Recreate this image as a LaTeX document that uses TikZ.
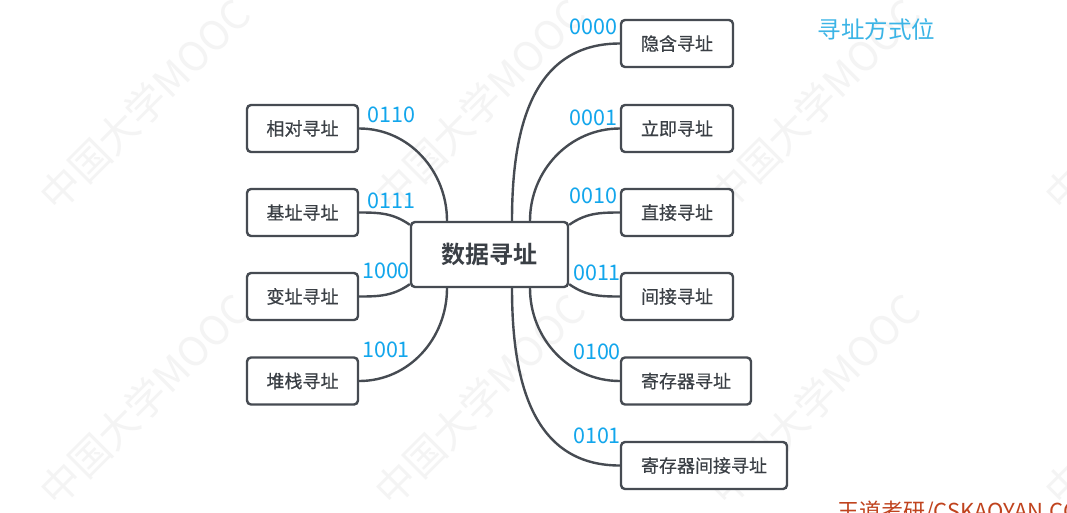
\documentclass[tikz,border=0pt]{standalone}
\usepackage{fontspec}
\setmainfont{Noto Sans CJK SC}[BoldFont={Noto Sans CJK SC Bold}]
\newfontfamily\leaffont{Noto Sans CJK SC}[FakeBold=0.6]
\usetikzlibrary{calc}
\definecolor{edgecol}{HTML}{464B52}
\definecolor{txtcol}{HTML}{3A3F45}
\definecolor{codecol}{HTML}{12A6EC}
\definecolor{notecol}{HTML}{3BB4E6}
\definecolor{brandcol}{HTML}{C0431E}
\definecolor{wmcol}{HTML}{F4F4F4}
\begin{document}
\begin{tikzpicture}[x=1pt,y=-1pt,
  leaf/.style={draw=edgecol, line width=2.4pt, rounded corners=4pt, fill=white,
    text=txtcol, font=\leaffont\fontsize{18}{20}\selectfont, inner sep=0pt, minimum height=47pt},
  hub/.style={leaf, font=\fontsize{24}{26}\selectfont\bfseries, minimum height=65pt, minimum width=157pt},
  link/.style={draw=edgecol, line width=2.4pt},
  code/.style={text=codecol, font=\fontsize{21.5}{23}\selectfont, inner sep=0pt},
  wmark/.style={text=wmcol, font=\fontsize{40}{42}\selectfont, rotate=45, inner sep=0pt}]
\clip (0,0) rectangle (1067,512);
\fill[white] (0,0) rectangle (1067,512);

% faint background watermark
\foreach \wx in {145,480,815,1150}
  \foreach \wy in {105,400}
    \node[wmark] (wm-\wx-\wy) at (\wx,\wy) {中国大学MOOC};

% central topic
\node[hub] (c) at (489.5,254.5) {数据寻址};

% right branches
\node[leaf, minimum width=112pt] (r0) at (677,43.5) {隐含寻址};
\node[leaf, minimum width=112pt] (r1) at (677,128.5) {立即寻址};
\node[leaf, minimum width=112pt] (r2) at (677,212.5) {直接寻址};
\node[leaf, minimum width=112pt] (r3) at (677,296.5) {间接寻址};
\node[leaf, minimum width=130pt] (r4) at (686,381) {寄存器寻址};
\node[leaf, minimum width=166pt] (r5) at (704,465.5) {寄存器间接寻址};

% left branches
\node[leaf, minimum width=111pt] (l0) at (302.5,128.5) {相对寻址};
\node[leaf, minimum width=111pt] (l1) at (302.5,212.5) {基址寻址};
\node[leaf, minimum width=111pt] (l2) at (302.5,296.5) {变址寻址};
\node[leaf, minimum width=111pt] (l3) at (302.5,381) {堆栈寻址};

% connectors
\draw[link] ([xshift=22.5pt]c.north) to[out=90,in=180,looseness=1.1] (r0.west);
\draw[link] ([xshift=40.5pt]c.north) to[out=90,in=180] (r1.west);
\draw[link] ([yshift=-4pt]c.north east) to[out=35,in=180] (r2.west);
\draw[link] ([yshift=4pt]c.south east) to[out=-35,in=180] (r3.west);
\draw[link] ([xshift=40.5pt]c.south) to[out=-90,in=180] (r4.west);
\draw[link] ([xshift=22.5pt]c.south) to[out=-90,in=180,looseness=1.1] (r5.west);
\draw[link] ([xshift=-42.5pt]c.north) to[out=90,in=0] (l0.east);
\draw[link] ([yshift=-4pt]c.north west) to[out=145,in=0] (l1.east);
\draw[link] ([yshift=4pt]c.south west) to[out=-145,in=0] (l2.east);
\draw[link] ([xshift=-42.5pt]c.south) to[out=-90,in=0] (l3.east);

% mode codes
\node[code] (k0) at (593.5,27) {0000};
\node[code] (k1) at (593.5,118) {0001};
\node[code] (k2) at (593.5,196) {0010};
\node[code] (k3) at (597,273) {0011};
\node[code] (k4) at (597,352) {0100};
\node[code] (k5) at (597,436) {0101};
\node[code] (k6) at (391.5,115) {0110};
\node[code] (k7) at (391.5,201) {0111};
\node[code] (k8) at (386,271) {1000};
\node[code] (k9) at (386,350) {1001};

% captions
\node[text=notecol, font=\fontsize{23.5}{25}\selectfont, inner sep=0pt] (title) at (876.5,30) {寻址方式位};
\node[text=brandcol, font=\fontsize{22}{24}\selectfont, inner sep=0pt, anchor=north west] (brand) at (837,501) {王道考研/CSKAOYAN.COM};
\end{tikzpicture}
\end{document}
